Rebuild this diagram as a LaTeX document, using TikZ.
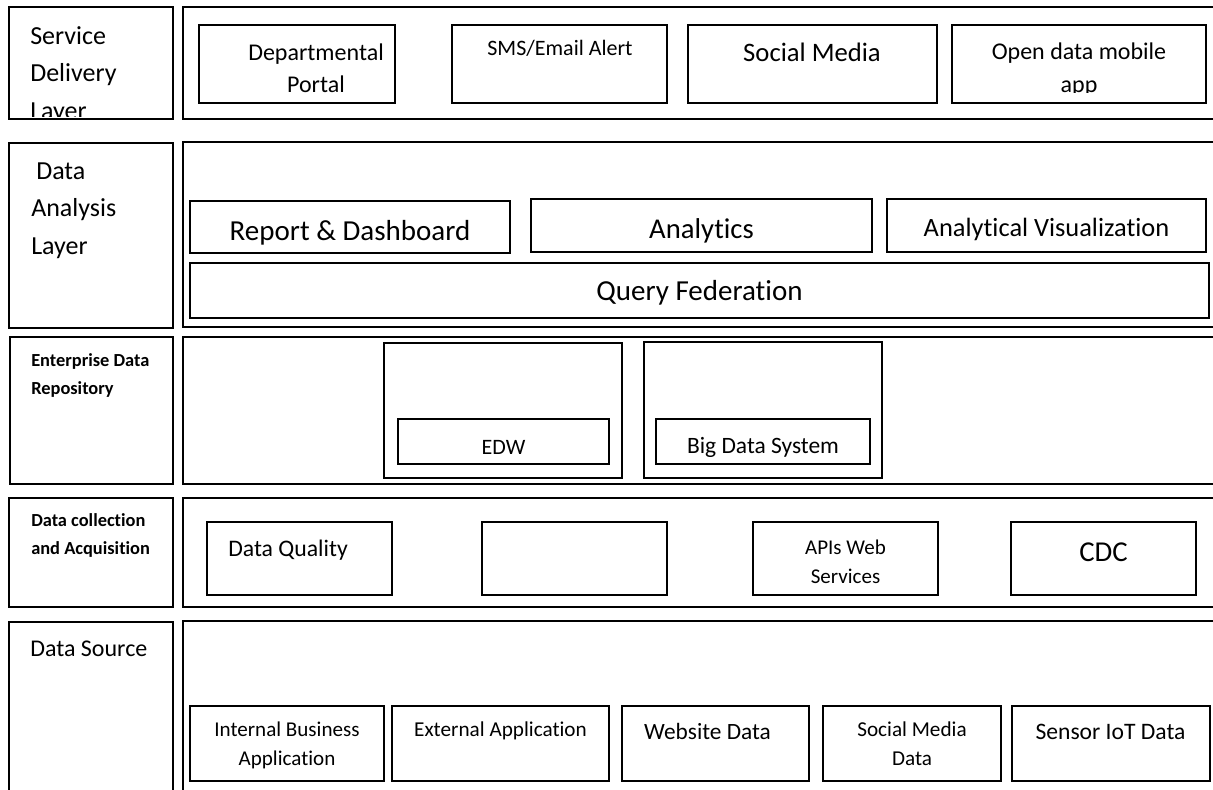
\documentclass[tikz,border=0pt]{standalone}
\usepackage{fontspec}
\setmainfont{Carlito}[Ligatures={NoCommon}]
\usetikzlibrary{fit}
\tikzset{
  outerbox/.style={draw, line width=1.5pt, inner sep=0pt},
  innerbox/.style={draw, line width=1.1pt, inner sep=0pt},
  thickbox/.style={draw, line width=1.5pt, inner sep=0pt},
  lbl/.style={anchor=base west, inner sep=0pt},
  ctr/.style={anchor=base, inner sep=0pt},
}
\newcommand{\fs}[1]{\fontsize{#1}{#1}\selectfont}
\begin{document}
\begin{tikzpicture}[x=0.75pt, y=-0.75pt]
\useasboundingbox (0,0) rectangle (1213,789);

% ---------- Row 1: Service Delivery Layer ----------
\node[outerbox, fit={(9,7) (173,119)}] (L1) {};
\node[outerbox, fit={(183,7) (1216,119)}] (R1) {};
\node[innerbox, fit={(199,25) (395,103)}] (dp) {};
\node[innerbox, fit={(452,25) (667,103)}] (sms) {};
\node[innerbox, fit={(688,25) (937,103)}] (sm) {};
\node[innerbox, fit={(952,25) (1206,103)}] (od) {};
\node[lbl, font=\fs{19.5}] (sdl1) at (30,44) {Service};
\node[lbl, font=\fs{19.5}] (sdl2) at (30,81.5) {Delivery};
\begin{scope}
  \clip (0,0) rectangle (1213,116.5);
  \node[lbl, font=\fs{19.5}] (sdl3) at (30,119) {Layer};
\end{scope}
\node[ctr, font=\fs{18}] (dp1) at (316,60) {Departmental};
\node[ctr, font=\fs{18}] (dp2) at (316,92.3) {Portal};
\node[ctr, font=\fs{16.5}] (smst) at (560,55) {SMS/Email Alert};
\node[ctr, font=\fs{20}] (smt) at (812,61) {Social Media};
\node[ctr, font=\fs{18}] (od1) at (1079,59) {Open data mobile};
\begin{scope}
  \clip (900,60) rectangle (1213,92.5);
  \node[ctr, font=\fs{18}] (od2) at (1079,92) {app};
\end{scope}

% ---------- Row 2: Data Analysis Layer ----------
\node[outerbox, fit={(9,143) (173,328)}] (L2) {};
\node[outerbox, fit={(183,142) (1216,327)}] (R2) {};
\node[innerbox, fit={(190,201) (510,253)}] (rd) {};
\node[innerbox, fit={(531,199) (872,252)}] (an) {};
\node[innerbox, fit={(887,199) (1206,252)}] (av) {};
\node[innerbox, fit={(190,263) (1209,318)}] (qf) {};
\node[lbl, font=\fs{19.5}] (dal1) at (36,179) {Data};
\node[lbl, font=\fs{19.5}] (dal2) at (31,216.5) {Analysis};
\node[lbl, font=\fs{19.5}] (dal3) at (31,254) {Layer};
\node[ctr, font=\fs{21.75}] (rdt) at (350,240) {Report \& Dashboard};
\node[ctr, font=\fs{21.5}] (ant) at (701.5,238.3) {Analytics};
\node[ctr, font=\fs{19.8}] (avt) at (1046.5,236) {Analytical Visualization};
\node[ctr, font=\fs{21.75}] (qft) at (699.5,300) {Query Federation};

% ---------- Row 3: Enterprise Data Repository ----------
\node[outerbox, fit={(10,337) (173,484)}] (L3) {};
\node[outerbox, fit={(183,337) (1216,484)}] (R3) {};
\node[thickbox, fit={(384,343) (622,478)}] (edwo) {};
\node[innerbox, fit={(398,419) (609,464)}] (edwi) {};
\node[innerbox, fit={(644,342) (882,478)}] (bdo) {};
\node[innerbox, fit={(656,419) (870,464)}] (bdi) {};
\node[lbl, font=\fs{13.8}\bfseries] (edr1) at (31,366.7) {Enterprise Data};
\node[lbl, font=\fs{13.8}\bfseries] (edr2) at (31,394) {Repository};
\node[ctr, font=\fs{16.5}] (edwt) at (503.5,454) {EDW};
\begin{scope}
  \clip (656,419) rectangle (870,456);
  \node[ctr, font=\fs{17.6}] (bdt) at (763,453.3) {Big Data System};
\end{scope}

% ---------- Row 4: Data collection and Acquisition ----------
\node[outerbox, fit={(9,498) (173,607)}] (L4) {};
\node[outerbox, fit={(183,498) (1216,607)}] (R4) {};
\node[innerbox, fit={(207,522) (392,595)}] (dq) {};
\node[innerbox, fit={(482,522) (667,595)}] (emp) {};
\node[innerbox, fit={(753,522) (938,595)}] (api) {};
\node[innerbox, fit={(1011,522) (1196,595)}] (cdc) {};
\node[lbl, font=\fs{13.8}\bfseries] (dca1) at (31,526.7) {Data collection};
\node[lbl, font=\fs{13.8}\bfseries] (dca2) at (31,554) {and Acquisition};
\node[lbl, font=\fs{17.8}] (dqt) at (228,556) {Data Quality};
\node[ctr, font=\fs{15.75}] (api1) at (845.5,554) {APIs Web};
\node[ctr, font=\fs{15.75}] (api2) at (845.5,583.3) {Services};
\node[ctr, font=\fs{21.6}] (cdct) at (1103.5,561.7) {CDC};

% ---------- Row 5: Data Source ----------
\node[outerbox, fit={(9,622) (173,795)}] (L5) {};
\node[outerbox, fit={(183,621) (1216,795)}] (R5) {};
\node[innerbox, fit={(190,706) (384,781)}] (ib) {};
\node[innerbox, fit={(392,706) (609,781)}] (ea) {};
\node[innerbox, fit={(622,706) (809,781)}] (wd) {};
\node[innerbox, fit={(823,706) (1001,781)}] (smd) {};
\node[innerbox, fit={(1012,706) (1210,781)}] (si) {};
\node[lbl, font=\fs{18}] (dst) at (30,656.7) {Data Source};
\node[ctr, font=\fs{15.8}] (ib1) at (287,736.7) {Internal Business};
\node[ctr, font=\fs{15.8}] (ib2) at (287,765.7) {Application};
\node[ctr, font=\fs{15.9}] (eat) at (500.5,736) {External Application};
\node[ctr, font=\fs{17.5}] (wdt) at (707.5,739) {Website Data};
\node[ctr, font=\fs{15.9}] (smd1) at (912,736.7) {Social Media};
\node[ctr, font=\fs{15.9}] (smd2) at (912,765.7) {Data};
\node[ctr, font=\fs{17.7}] (sit) at (1110.5,739) {Sensor IoT Data};
\end{tikzpicture}
\end{document}
